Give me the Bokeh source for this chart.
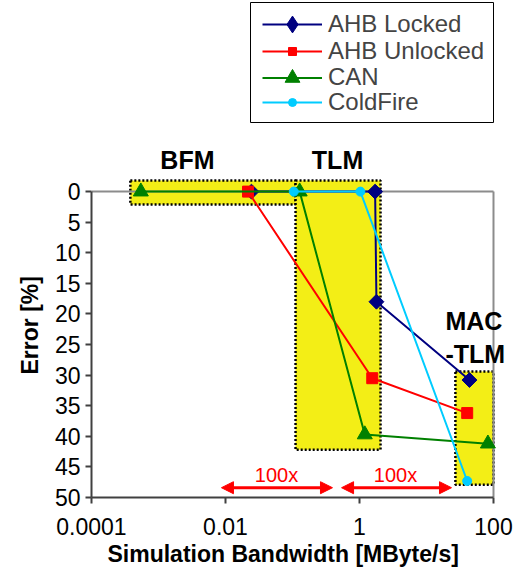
from bokeh.plotting import figure
from bokeh.models import (Range1d, Legend, LegendItem, Label, Arrow, NormalHead,
                          FixedTicker, ColumnDataSource, Title, BoxAnnotation)
from bokeh.embed import file_html
from bokeh.resources import INLINE

# ---------------- data ----------------
series_names = ["AHB Locked", "AHB Unlocked", "CAN", "ColdFire"]
ahb_locked_x = [0.0244, 1.71, 1.79, 43.8]
ahb_locked_y = [0, 0, 18, 30.8]
ahb_unlocked_x = [0.0217, 1.55, 40.5]
ahb_unlocked_y = [0, 30.5, 36.2]
can_x = [0.000545, 0.128, 1.2, 82.5]
can_y = [0, 0, 39.7, 41.2]
coldfire_x = [0.1045, 1.03, 40.5]
coldfire_y = [0, 0, 47.3]

x_ticks = [0.0001, 0.01, 1, 100]
x_tick_labels = ["0.0001", "0.01", "1", "100"]
y_ticks = [0, 5, 10, 15, 20, 25, 30, 35, 40, 45, 50]

# highlighted model regions (BFM, TLM, MAC-TLM)
region_left = [0.00038, 0.111, 27.0]
region_right = [0.111, 2.06, 100.0]
region_top = [-1.8, -1.8, 29.4]
region_bottom = [2.1, 42.2, 47.9]

# region captions
caption_text = ["BFM", "TLM", "MAC", "-TLM"]
caption_x = [0.0027, 0.47, 19.2, 19.2]
caption_y = [-5.1, -5.1, 21.1, 26.5]
caption_align = ["center", "center", "left", "left"]

# speed-up arrows
speedup_text = ["100x", "100x"]
speedup_start = [0.0087, 0.54]
speedup_end = [0.395, 23.6]
speedup_label_x = [0.0577, 3.44]
speedup_arrow_y = 48.4
speedup_label_y = 46.4

X_MIN, X_MAX = 0.0001, 100          # axis extent
Y_MIN, Y_MAX = 0, 50                # axis extent
VIEW_X_MAX = 205.8                  # room right of the axis for captions
VIEW_Y_TOP = -31.24                 # room above the axis for legend/captions

FONT = "Liberation Sans"

p = figure(width=514, height=568, x_axis_type="log",
           x_range=Range1d(X_MIN, VIEW_X_MAX), y_range=Range1d(Y_MAX, VIEW_Y_TOP),
           output_backend="svg", toolbar_location=None,
           min_border_left=91, min_border_right=0,
           min_border_top=0, min_border_bottom=71)
p.outline_line_color = None
p.xgrid.visible = False
p.ygrid.visible = False
p.background_fill_color = "white"
p.border_fill_color = "white"

# region boxes
p.quad(left=region_left, right=region_right, top=region_top, bottom=region_bottom,
       fill_color="#F3EE16", line_color="black", line_dash="2 2", line_width=2.5)

# plot area border (top and right, gray)
p.segment(x0=[X_MIN, X_MAX], y0=[Y_MIN, Y_MIN], x1=[X_MAX, X_MAX], y1=[Y_MIN, Y_MAX],
          line_color="#8c8c8c", line_width=2)

styles = [
    dict(color="#000080", marker="square", size=10.5, angle=0.7854,
         legend_marker="diamond", legend_glyph_h=42, row_c=24),
    dict(color="#FF0000", marker="square", size=11, angle=0,
         legend_marker=None, legend_glyph_h=20, row_c=50),
    dict(color="#008000", marker="triangle", size=15, angle=0,
         legend_marker=None, legend_glyph_h=37, row_c=77),
    dict(color="#00CCFF", marker="circle", size=9, angle=0,
         legend_marker=None, legend_glyph_h=20, row_c=101),
]
xs = [ahb_locked_x, ahb_unlocked_x, can_x, coldfire_x]
ys = [ahb_locked_y, ahb_unlocked_y, can_y, coldfire_y]

FRAME_BOTTOM_PX = 497
LABEL_TEXT_H = 29

# legend frame
p.add_layout(BoxAnnotation(left=159, right=402, top=495, bottom=375,
                           left_units="screen", right_units="screen",
                           top_units="screen", bottom_units="screen",
                           fill_color="white", fill_alpha=1,
                           line_color="black", line_width=1, line_alpha=1))

for name, x, y, st in zip(series_names, xs, ys, styles):
    src = ColumnDataSource(dict(x=x, y=y))
    lr = p.line("x", "y", source=src, line_color=st["color"], line_width=2)
    sr = p.scatter("x", "y", source=src, marker=st["marker"], size=st["size"],
                   angle=st["angle"], fill_color=st["color"], line_color=st["color"])
    legend_renderers = [lr, sr]
    if st["legend_marker"]:
        hr = p.scatter("x", "y", source=src, marker=st["legend_marker"], size=st["size"],
                       fill_color=st["color"], line_color=st["color"], visible=False)
        legend_renderers = [lr, hr]
    gh = st["legend_glyph_h"]
    h = max(gh, LABEL_TEXT_H)
    loc_y = FRAME_BOTTOM_PX - (st["row_c"] + h / 2)
    p.add_layout(Legend(items=[LegendItem(label=name, renderers=legend_renderers)],
                        location=(171, loc_y), margin=0, padding=0, spacing=0,
                        glyph_width=60, glyph_height=gh, label_height=20,
                        label_standoff=6, label_text_font=FONT, label_text_font_size="24px",
                        border_line_color=None, background_fill_alpha=0))

# arrows
for xs0, xs1 in zip(speedup_start, speedup_end):
    p.add_layout(Arrow(x_start=xs0, y_start=speedup_arrow_y, x_end=xs1, y_end=speedup_arrow_y,
                       line_color="#FF0000", line_width=3,
                       start=NormalHead(size=12, fill_color="#FF0000", line_color="#FF0000"),
                       end=NormalHead(size=12, fill_color="#FF0000", line_color="#FF0000")))
for t, lx in zip(speedup_text, speedup_label_x):
    p.add_layout(Label(x=lx, y=speedup_label_y, text=t, text_align="center",
                       text_baseline="middle", text_color="#FF0000",
                       text_font=FONT, text_font_size="20px"))

for t, cx, cy, al in zip(caption_text, caption_x, caption_y, caption_align):
    p.add_layout(Label(x=cx, y=cy, text=t, text_align=al, text_baseline="middle",
                       text_font=FONT, text_font_size="25px", text_font_style="bold",
                       text_color="black"))

# axes
p.xaxis.ticker = FixedTicker(ticks=x_ticks)
p.xaxis.major_label_overrides = dict(zip(x_ticks, x_tick_labels))
p.xaxis.bounds = (X_MIN, X_MAX)
p.yaxis.ticker = FixedTicker(ticks=y_ticks)
p.yaxis.bounds = (Y_MIN, Y_MAX)
for ax in [p.xaxis[0], p.yaxis[0]]:
    ax.axis_line_color = "#404040"
    ax.axis_line_width = 2
    ax.major_tick_line_color = "#404040"
    ax.major_tick_line_width = 2
    ax.major_tick_out = 6
    ax.major_tick_in = 0
    ax.minor_tick_line_color = None
    ax.major_label_text_font = FONT
    ax.major_label_text_font_size = "23px"
    ax.major_label_text_color = "black"
p.xaxis.major_label_standoff = 14
p.yaxis.major_label_standoff = 5

p.add_layout(Title(text="Simulation Bandwidth [MByte/s]", align="left", offset=16,
                   standoff=3, text_font=FONT, text_font_size="23px",
                   text_font_style="bold", text_color="black"), "below")
p.add_layout(Title(text="Error [%]", align="left", offset=123,
                   standoff=17, text_font=FONT, text_font_size="23px",
                   text_font_style="bold", text_color="black"), "left")

open("out.html", "w").write(file_html(p, INLINE))
